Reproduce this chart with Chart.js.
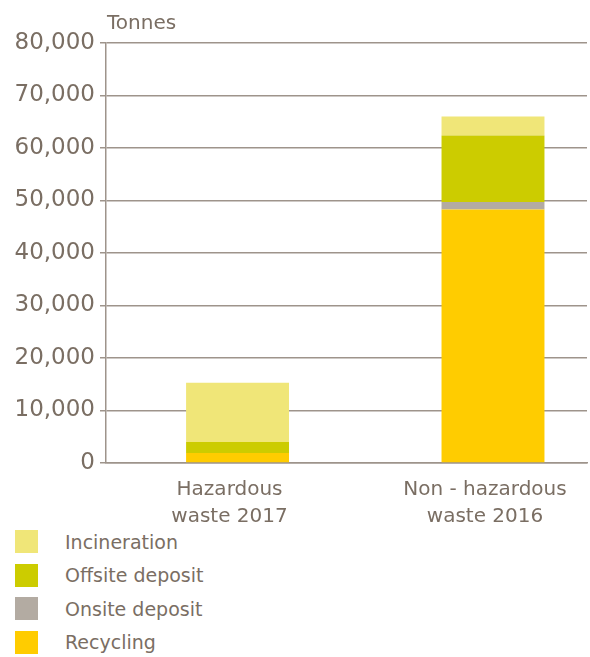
<!DOCTYPE html>
<html>
<head>
<meta charset="utf-8">
<script src="https://cdn.jsdelivr.net/npm/chart.js@4"></script>
<style>
  html, body { margin: 0; padding: 0; background: #fff; }
  body { width: 590px; height: 657px; overflow: hidden; font-family: "DejaVu Sans", sans-serif; color: #7a6e63; }
  #wrap { position: relative; width: 590px; height: 535px; }
  #legend { list-style: none; margin: -10px 0 0 0; padding: 0 0 0 15px; }
  #legend li { display: flex; align-items: center; height: 33.5px; font-size: 19px; }
  #legend .box { width: 23px; height: 23px; margin-right: 27px; }
</style>
</head>
<body>
<div id="wrap"><canvas id="chart"></canvas></div>
<ul id="legend"></ul>
<script>
const categories = [["Hazardous", "waste 2017"], ["Non - hazardous", "waste 2016"]];
const recycling = [1900, 48300];
const onsiteDeposit = [0, 1400];
const offsiteDeposit = [2100, 12700];
const incineration = [11300, 3600];
const yTicks = [0, 10000, 20000, 30000, 40000, 50000, 60000, 70000, 80000];

const textColor = "#7a6e63";
const gridColor = "#9e948b";

const titlePlugin = {
  id: "tonnes",
  afterDraw(chart) {
    const { ctx, chartArea } = chart;
    ctx.save();
    ctx.fillStyle = textColor;
    ctx.font = "20px 'DejaVu Sans'";
    ctx.textBaseline = "alphabetic";
    ctx.fillText("Tonnes", chartArea.left + 1, 29);
    ctx.restore();
  }
};

const chart = new Chart(document.getElementById("chart"), {
  type: "bar",
  data: {
    labels: categories.map((c, i) => i),
    datasets: [
      { label: "Recycling", data: recycling, backgroundColor: "#ffcc00" },
      { label: "Onsite deposit", data: onsiteDeposit, backgroundColor: "#b3aba2" },
      { label: "Offsite deposit", data: offsiteDeposit, backgroundColor: "#cccc00" },
      { label: "Incineration", data: incineration, backgroundColor: "#f0e678" }
    ]
  },
  options: {
    responsive: true,
    maintainAspectRatio: false,
    animation: false,
    layout: { padding: { top: 43, right: 3, left: 0, bottom: 0 } },
    plugins: { legend: { display: false }, tooltip: { enabled: false } },
    datasets: { bar: { barPercentage: 0.403, categoryPercentage: 1 } },
    scales: {
      x: {
        type: "linear",
        stacked: true,
        offset: false,
        min: -0.515,
        max: 1.368,
        afterBuildTicks: (axis) => { axis.ticks = categories.map((c, i) => ({ value: i })); },
        grid: { display: false },
        border: { color: gridColor, width: 1.5 },
        ticks: {
          color: textColor,
          font: { family: "DejaVu Sans", size: 20, lineHeight: "27px" },
          padding: 5,
          labelOffset: -8,
          maxRotation: 0,
          callback: (v) => categories[v]
        }
      },
      y: {
        stacked: true,
        min: 0,
        max: 80000,
        afterBuildTicks: (axis) => { axis.ticks = yTicks.map((v) => ({ value: v })); },
        afterFit: (axis) => { axis.width = 106; },
        grid: { color: gridColor, lineWidth: 1.5, tickLength: 6 },
        border: { color: gridColor, width: 1.5 },
        ticks: {
          color: textColor,
          font: { family: "DejaVu Sans", size: 23 },
          padding: 5,
          callback: (v) => v.toLocaleString("en-US")
        }
      }
    }
  },
  plugins: [titlePlugin]
});

const legend = document.getElementById("legend");
chart.data.datasets.slice().reverse().forEach((ds) => {
  const li = document.createElement("li");
  const box = document.createElement("span");
  box.className = "box";
  box.style.background = ds.backgroundColor;
  li.appendChild(box);
  li.appendChild(document.createTextNode(ds.label));
  legend.appendChild(li);
});
</script>
</body>
</html>
